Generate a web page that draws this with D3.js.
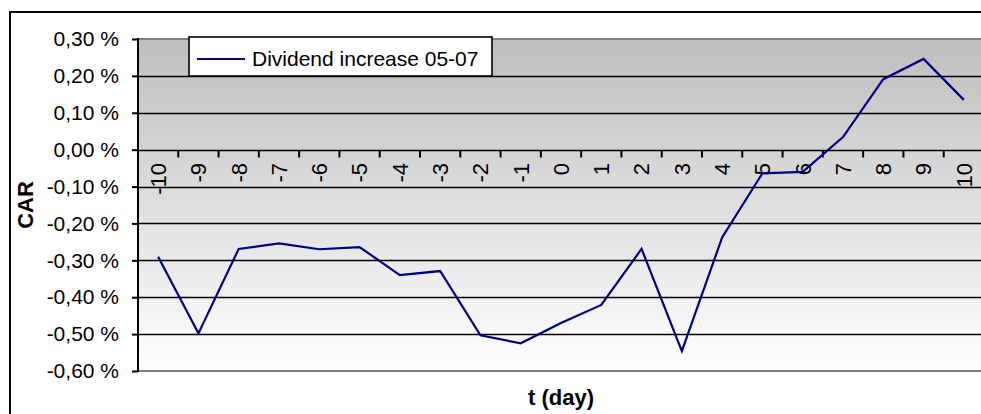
<!DOCTYPE html>
<html>
<head>
<meta charset="utf-8">
<script src="https://cdn.jsdelivr.net/npm/d3@7/dist/d3.min.js"></script>
<style>
  html, body { margin: 0; padding: 0; background: #fff; overflow: hidden; }
  svg { display: block; overflow: hidden; font-family: "Liberation Sans", Arial, sans-serif; }
</style>
</head>
<body>
<svg id="chart" width="981" height="414"></svg>
<script>
// CAR around dividend increase announcements (05-07), event window -10..10

const days = d3.range(-10, 11);
const carValues = [
  -0.290, -0.498, -0.269, -0.254, -0.270, -0.264, -0.340, -0.329, -0.503, -0.525,
  -0.470, -0.421, -0.269, -0.546, -0.238, -0.064, -0.060, 0.034, 0.191, 0.246, 0.135,
];
const yTicks = [-0.6, -0.5, -0.4, -0.3, -0.2, -0.1, 0, 0.1, 0.2, 0.3];
const seriesName = "Dividend increase 05-07";

const plot = { left: 138, right: 984, top: 39, bottom: 371 };

const svg = d3.select("#chart");

const commaLocale = d3.formatLocale({
  decimal: ",",
  thousands: ".",
  grouping: [3],
  currency: ["", ""],
  minus: "-",
});
const fmt = commaLocale.format(".2f");

const x = d3.scaleBand().domain(days).range([plot.left, plot.right]);
const y = d3.scaleLinear().domain([-0.6, 0.3]).range([plot.bottom, plot.top]);

// outer chart frame (right and bottom edges run off the picture)
svg.append("rect")
  .attr("x", 10).attr("y", 12)
  .attr("width", 1400).attr("height", 800)
  .attr("fill", "#fff")
  .attr("stroke", "#000")
  .attr("stroke-width", 2);

// plot background gradient
const grad = svg.append("defs").append("linearGradient")
  .attr("id", "plotBg")
  .attr("x1", 0).attr("y1", 0).attr("x2", 0).attr("y2", 1);
grad.append("stop").attr("offset", "0%").attr("stop-color", "#bebebe");
grad.append("stop").attr("offset", "100%").attr("stop-color", "#ffffff");

svg.append("rect")
  .attr("x", plot.left).attr("y", plot.top)
  .attr("width", plot.right - plot.left)
  .attr("height", plot.bottom - plot.top)
  .attr("fill", "url(#plotBg)");

// gridlines
svg.append("g")
  .selectAll("line")
  .data(yTicks.filter((t) => t > -0.6 && t < 0.3))
  .join("line")
  .attr("x1", plot.left).attr("x2", plot.right)
  .attr("y1", (d) => Math.round(y(d)) + 0.5)
  .attr("y2", (d) => Math.round(y(d)) + 0.5)
  .attr("stroke", "#000")
  .attr("stroke-width", 1.6);

// top and bottom plot borders
svg.append("g")
  .selectAll("line")
  .data([0.3, -0.6])
  .join("line")
  .attr("x1", plot.left).attr("x2", plot.right)
  .attr("y1", (d) => y(d))
  .attr("y2", (d) => y(d))
  .attr("stroke", "#808080")
  .attr("stroke-width", 2);

// y axis
const yAxis = d3.axisLeft(y)
  .tickValues(yTicks)
  .tickSize(6)
  .tickPadding(13)
  .tickFormat((d) => fmt(d) + " %");

const yAxisG = svg.append("g")
  .attr("transform", `translate(${plot.left},0)`)
  .call(yAxis);
yAxisG.select(".domain").remove();
yAxisG.selectAll(".tick line").attr("stroke", "#000").attr("stroke-width", 2);
yAxisG.selectAll(".tick text")
  .attr("fill", "#000")
  .attr("font-size", 21)
  .attr("font-family", "Liberation Sans, Arial, sans-serif");

svg.append("line")
  .attr("x1", plot.left).attr("x2", plot.left)
  .attr("y1", plot.top - 1).attr("y2", plot.bottom + 1)
  .attr("stroke", "#000")
  .attr("stroke-width", 2);

// x axis at zero, ticks between categories
const zeroY = Math.round(y(0)) + 0.5;
const xg = svg.append("g");
xg.selectAll(".xtick")
  .data(days.slice(1))
  .join("line")
  .attr("class", "xtick")
  .attr("x1", (d) => x(d))
  .attr("x2", (d) => x(d))
  .attr("y1", zeroY)
  .attr("y2", zeroY + 7)
  .attr("stroke", "#000")
  .attr("stroke-width", 2);

xg.selectAll(".xlabel")
  .data(days)
  .join("text")
  .attr("class", "xlabel")
  .attr("transform", (d) => `translate(${x(d) + x.bandwidth() / 2},163) rotate(-90)`)
  .attr("text-anchor", "end")
  .attr("dy", "0.36em")
  .attr("font-size", 22)
  .attr("fill", "#000")
  .text((d) => d);

// series line
const line = d3.line()
  .x((d, i) => x(days[i]) + x.bandwidth() / 2)
  .y((d) => y(d));

svg.append("path")
  .datum(carValues)
  .attr("d", line)
  .attr("fill", "none")
  .attr("stroke", "#000080")
  .attr("stroke-width", 2.2)
  .attr("stroke-linejoin", "miter");

// axis titles
svg.append("text")
  .attr("transform", `translate(33,${(plot.top + plot.bottom) / 2}) rotate(-90)`)
  .attr("text-anchor", "middle")
  .attr("font-size", 22)
  .attr("font-weight", "bold")
  .text("CAR");

svg.append("text")
  .attr("x", (plot.left + plot.right) / 2)
  .attr("y", 405)
  .attr("text-anchor", "middle")
  .attr("font-size", 22)
  .attr("font-weight", "bold")
  .text("t (day)");

// legend
const legend = svg.append("g");
legend.append("rect")
  .attr("x", 189).attr("y", 37)
  .attr("width", 303).attr("height", 39)
  .attr("fill", "#fff")
  .attr("stroke", "#000")
  .attr("stroke-width", 1.6);
legend.append("line")
  .attr("x1", 197).attr("x2", 245)
  .attr("y1", 59).attr("y2", 59)
  .attr("stroke", "#000080")
  .attr("stroke-width", 2);
legend.append("text")
  .attr("x", 252).attr("y", 66)
  .attr("font-size", 21)
  .text(seriesName);
</script>
</body>
</html>
